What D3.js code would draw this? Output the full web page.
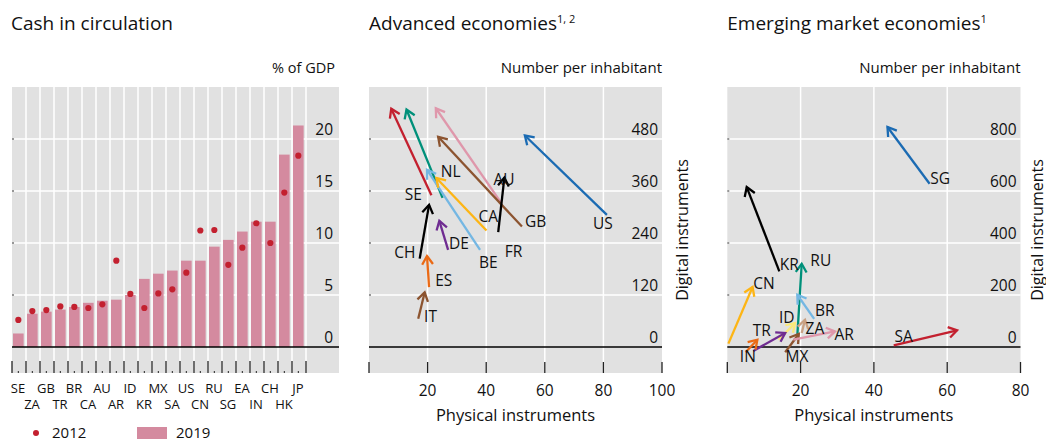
<!DOCTYPE html>
<html><head><meta charset="utf-8">
<script src="https://cdn.jsdelivr.net/npm/d3@7"></script>
<style>
html,body{margin:0;padding:0;background:#fff;}
svg{display:block;font-family:"Open Sans","Noto Sans",sans-serif;}
</style></head>
<body>
<svg id="chart" width="1046" height="441"></svg>
<script>
// ---------- Data ----------
const cashCategories = ["SE","ZA","GB","TR","BR","CA","AU","AR","ID","KR","MX","SA","US","CN","RU","SG","EA","IN","CH","HK","JP"];
const cash2019 = [1.3,3.2,3.4,3.6,3.85,4.25,4.45,4.55,5.0,6.55,7.05,7.35,8.3,8.3,9.65,10.3,11.1,12.05,12.05,18.5,21.3];
const cash2012 = [2.6,3.45,3.55,3.9,3.85,3.75,4.1,8.3,5.1,3.75,5.15,5.55,7.15,11.2,11.25,7.9,9.55,11.9,10.0,14.85,18.4];
const cashTicks = [0,5,10,15,20];

const advCodes = ["SE","NL","AU","GB","BE","CA","FR","CH","DE","ES","IT","US"];
const advPhysStart = [21.3,25.1,45.3,52.2,37.9,40.1,44.1,17.3,27.0,20.5,16.8,81.2];
const advDigStart  = [350,344,331,278,224,269,265,204,224,138,65,305];
const advPhysEnd   = [7.6,12.8,22.8,23.6,19.8,23.0,46.2,20.5,24.0,19.8,19.0,53.2];
const advDigEnd    = [550,548,551,485,409,390,391,328,291,210,126,488];
const advLabelX    = [15.1,27.9,46.1,56.9,40.7,40.7,49.3,12.2,30.7,25.5,21.0,79.8];
const advLabelY    = [353,405,386,290,195,301,221,217,238,153,71,285];
const advXTicks = [20,40,60,80,100];
const advYTicks = [0,120,240,360,480];

const emeCodes = ["SG","KR","CN","RU","BR","ID","ZA","TR","MX","IN","AR","SA"];
const emePhysStart = [55.2,14.2,0.3,19.1,23.7,14.0,20.3,7.1,15.8,5.0,18.0,45.4];
const emeDigStart  = [628,291,13,41,108,28,54,-15,-20,-20,28,6];
const emePhysEnd   = [43.7,5.3,6.9,20.3,19.1,18.5,21.2,15.8,19.5,8.2,29.4,62.7];
const emeDigEnd    = [846,615,231,320,201,92,105,54,50,28,60,64];
const emeLabelX    = [58.1,16.9,10.0,25.5,26.6,16.2,23.9,9.4,19.0,5.6,31.9,48.1];
const emeLabelY    = [650,317,246,333,139,112,70,64,-36,-38,47,41];
const emeXTicks = [20,40,60,80];
const emeYTicks = [0,200,400,600,800];

// ---------- Styles ----------
const colors = {
  SE:"#c3202f", NL:"#00907a", AU:"#df97ab", GB:"#8c5430", BE:"#74b7e3", CA:"#fdb515",
  FR:"#000000", CH:"#000000", DE:"#6f2c91", ES:"#ea6a16", IT:"#8c5430", US:"#1b6bb3",
  SG:"#1b6bb3", KR:"#000000", CN:"#fdb515", RU:"#00907a", BR:"#74b7e3", ID:"#fbe97a",
  ZA:"#c9a184", TR:"#6f2c91", MX:"#8c5430", IN:"#ea6a16", AR:"#df97ab", SA:"#c3202f"
};
const BG = "#e1e1e1", BAR = "#d48a9f", DOT = "#c3202f", TXT = "#111";

const svg = d3.select("#chart");

function panelFrame(x0, x1, y0, y1) {
  svg.append("rect").attr("x", x0).attr("y", y0).attr("width", x1 - x0).attr("height", y1 - y0).attr("fill", BG);
}
function text(x, y, s, size, anchor) {
  return svg.append("text").attr("x", x).attr("y", y).attr("font-size", size)
    .attr("text-anchor", anchor || "start").attr("fill", TXT).text(s);
}

// ---------- Panel 1: Cash in circulation ----------
(function(){
  const L = 12, R = 339, T = 87, B = 373;
  const y = d3.scaleLinear().domain([-2.5, 25]).range([B, T]);
  const x = d3.scaleBand().domain(cashCategories).range([L, 306]).padding(0);
  panelFrame(L, R, T, B);
  cashTicks.filter(d => d !== 0).forEach(t => {
    svg.append("line").attr("x1", L).attr("x2", R).attr("y1", y(t)).attr("y2", y(t))
      .attr("stroke", "#fff").attr("stroke-width", 1.5);
    svg.append("line").attr("x1", L).attr("x2", L + 2).attr("y1", y(t)).attr("y2", y(t)).attr("stroke", "#333");
  });
  const bounds = cashCategories.map(c => x(c)).concat([x(cashCategories[cashCategories.length-1]) + x.step()]);
  bounds.slice(1).forEach(b => {
    svg.append("line").attr("x1", b).attr("x2", b).attr("y1", T).attr("y2", B)
      .attr("stroke", "#fff").attr("stroke-width", 1.5);
  });
  svg.selectAll(".bar").data(cashCategories).enter().append("rect")
    .attr("x", c => x(c) + 1).attr("width", x.step() * 0.76)
    .attr("y", (c,i) => y(cash2019[i])).attr("height", (c,i) => y(0) - y(cash2019[i]))
    .attr("fill", BAR);
  svg.selectAll(".dot").data(cashCategories).enter().append("circle")
    .attr("cx", c => x(c) + 1 + x.step() * 0.38).attr("cy", (c,i) => y(cash2012[i]))
    .attr("r", 3.1).attr("fill", DOT);
  svg.append("line").attr("x1", L).attr("x2", R).attr("y1", y(0)).attr("y2", y(0)).attr("stroke", "#000").attr("stroke-width", 1.5);
  bounds.forEach(b => {
    svg.append("line").attr("x1", b).attr("x2", b).attr("y1", B - 12).attr("y2", B).attr("stroke", "#222").attr("stroke-width", 1.3);
  });
  cashCategories.forEach(c => {
    const cx = x(c) + 1 + x.step()*0.38;
    svg.append("line").attr("x1", cx).attr("x2", cx).attr("y1", B - 2).attr("y2", B).attr("stroke", "#222");
  });
  cashTicks.forEach(t => text(333, y(t) - 4, String(t), 15.5, "end"));
  cashCategories.forEach((c, i) => {
    const cx = x(c) + 6;
    text(cx, i % 2 === 0 ? 393 : 409, c, 13, "middle");
  });
  text(11, 30, "Cash in circulation", 19);
  text(335, 73, "% of GDP", 14.5, "end");
  svg.append("circle").attr("cx", 36).attr("cy", 433).attr("r", 3).attr("fill", DOT);
  text(52, 437.5, "2012", 15);
  svg.append("rect").attr("x", 137).attr("y", 427).attr("width", 30).attr("height", 12).attr("fill", BAR);
  text(176, 437.5, "2019", 15);
})();

// ---------- Arrow panels ----------
function arrowPanel(opts) {
  const { L, R, T, B, xDom, yDom, xTicks, yTicks, codes, ps, ds, pe, de, lx, ly, title, sup, yLabOff } = opts;
  const x = d3.scaleLinear().domain(xDom).range([L, R]);
  const y = d3.scaleLinear().domain(yDom).range([B, T]);
  panelFrame(L, R, T, B);
  yTicks.filter(t => t !== 0).forEach(t => {
    svg.append("line").attr("x1", L).attr("x2", R).attr("y1", y(t)).attr("y2", y(t)).attr("stroke", "#fff").attr("stroke-width", 1.5);
    svg.append("line").attr("x1", L).attr("x2", L + 2).attr("y1", y(t)).attr("y2", y(t)).attr("stroke", "#333");
  });
  xTicks.forEach(t => {
    if (t !== xDom[1]) svg.append("line").attr("x1", x(t)).attr("x2", x(t)).attr("y1", T).attr("y2", B).attr("stroke", "#fff").attr("stroke-width", 1.5);
  });
  svg.append("line").attr("x1", L).attr("x2", R).attr("y1", y(0)).attr("y2", y(0)).attr("stroke", "#000").attr("stroke-width", 1.5);
  [xDom[0]].concat(xTicks).forEach(t => {
    svg.append("line").attr("x1", x(t)).attr("x2", x(t)).attr("y1", B - 11).attr("y2", B).attr("stroke", "#222").attr("stroke-width", 1.3);
  });
  yTicks.forEach(t => text(R - 4, y(t) - 4, String(t), 15.5, "end"));
  xTicks.forEach(t => text(x(t), 396, String(t), 15.5, "middle"));
  text((L + R) / 2, 421, "Physical instruments", 16.5, "middle");
  svg.append("text").attr("transform", `translate(${R + yLabOff},${(T + B) / 2}) rotate(-90)`)
    .attr("text-anchor", "middle").attr("font-size", 16).attr("fill", TXT).text("Digital instruments");
  text(R, 73, "Number per inhabitant", 15, "end");
  const tt = text(L, 30, title, 19);
  tt.append("tspan").attr("font-size", 11).attr("dy", -7).text(sup);
  codes.forEach((c, i) => {
    const x1 = x(ps[i]), y1 = y(ds[i]), x2 = x(pe[i]), y2 = y(de[i]);
    const col = colors[c];
    const g = svg.append("g").attr("stroke", col).attr("stroke-width", 2.3).attr("fill", "none").attr("stroke-linecap", "butt");
    g.append("line").attr("x1", x1).attr("y1", y1).attr("x2", x2).attr("y2", y2);
    const ang = Math.atan2(y2 - y1, x2 - x1);
    const hl = 10, ha = Math.PI / 5.5;
    const p1 = [x2 - hl * Math.cos(ang - ha), y2 - hl * Math.sin(ang - ha)];
    const p2 = [x2 - hl * Math.cos(ang + ha), y2 - hl * Math.sin(ang + ha)];
    g.append("path").attr("d", `M${p1[0]},${p1[1]}L${x2},${y2}L${p2[0]},${p2[1]}`).attr("stroke-linejoin", "miter");
  });
  codes.forEach((c, i) => {
    text(x(lx[i]), y(ly[i]) + 5.5, c, 15.5, "middle");
  });
}

arrowPanel({ L: 369, R: 662, T: 87, B: 373, xDom: [0, 100], yDom: [-60, 600], xTicks: advXTicks, yTicks: advYTicks,
  codes: advCodes, ps: advPhysStart, ds: advDigStart, pe: advPhysEnd, de: advDigEnd, lx: advLabelX, ly: advLabelY,
  title: "Advanced economies", sup: "1, 2", yLabOff: 26 });
arrowPanel({ L: 727.3, R: 1020.5, T: 87, B: 373, xDom: [0, 80], yDom: [-100, 1000], xTicks: emeXTicks, yTicks: emeYTicks,
  codes: emeCodes, ps: emePhysStart, ds: emeDigStart, pe: emePhysEnd, de: emeDigEnd, lx: emeLabelX, ly: emeLabelY,
  title: "Emerging market economies", sup: "1", yLabOff: 22 });
</script>
</body></html>
